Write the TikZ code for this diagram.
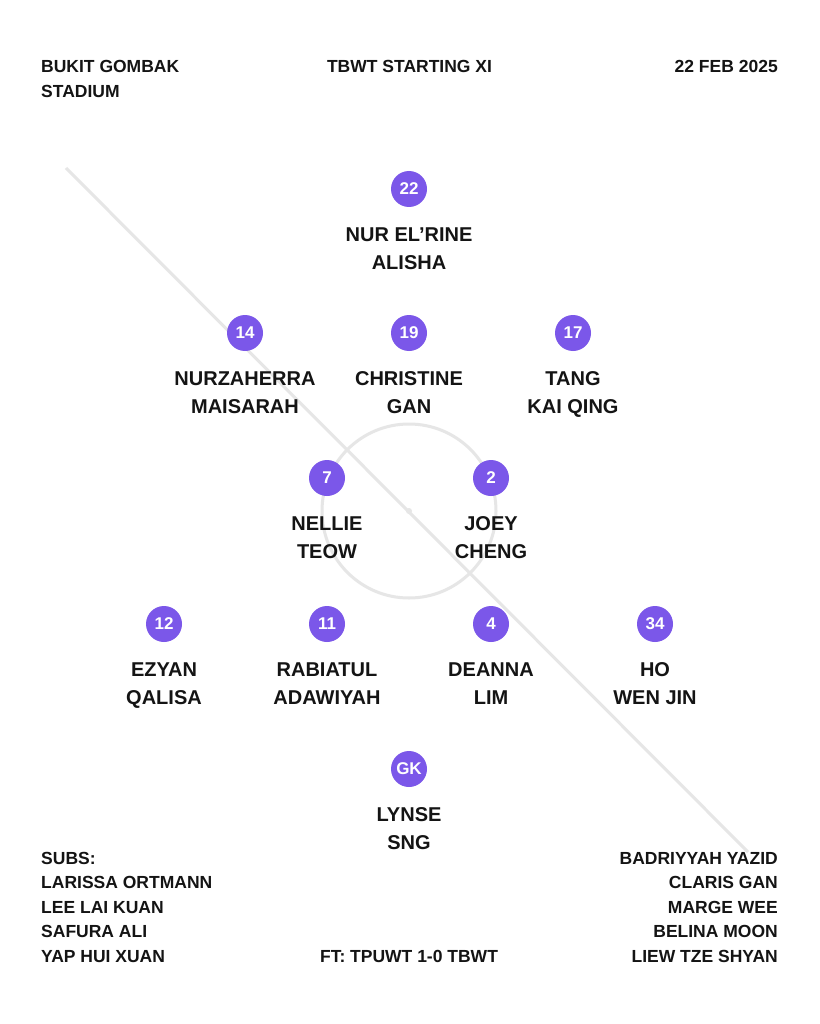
\documentclass[tikz,border=0pt]{standalone}
\usepackage{fontspec}
\setmainfont{Liberation Sans}
\definecolor{kitpurple}{RGB}{123,87,233}
\definecolor{pitch}{RGB}{230,230,230}
\definecolor{ink}{RGB}{20,20,20}
\begin{document}
\begin{tikzpicture}[x=1pt,y=-1pt,
  numdisc/.style={circle,fill=kitpurple,minimum size=36pt,inner sep=0pt,text=white,font=\fontsize{17}{17}\selectfont\bfseries},
  pname/.style={anchor=base,text=ink,inner sep=0pt,font=\fontsize{20}{24}\selectfont\bfseries},
  info/.style={text=ink,inner sep=0pt,font=\fontsize{17.5}{20}\selectfont\bfseries},
  pitchline/.style={draw=pitch,line width=3pt}]
\useasboundingbox[fill=white] (0,0) rectangle (819,1024);
% pitch markings
\coordinate (lineA) at (66,168);
\coordinate (lineB) at (748,852);
\node[circle,draw=pitch,line width=3pt,minimum size=174pt,inner sep=0pt] (centrecircle) at (409,511) {};
\draw[pitchline] (lineA) -- (lineB);
\node[circle,fill=pitch,minimum size=6pt,inner sep=0pt] (centrespot) at (centrecircle.center) {};
% header
\node[info,anchor=base west] (venue1) at (41,73) {BUKIT GOMBAK};
\node[info,anchor=base west] (venue2) at (41,98) {STADIUM};
\node[info,anchor=base] (title) at (409.5,73) {TBWT STARTING XI};
\node[info,anchor=base east] (date) at (778,73) {22 FEB 2025};
% players
\foreach \nm/\num/\x/\y/\la/\lb in {
  p22/22/409/189/{NUR EL’RINE}/{ALISHA},
  p14/14/245/333/{NURZAHERRA}/{MAISARAH},
  p19/19/409/333/{CHRISTINE}/{GAN},
  p17/17/573/333/{TANG}/{KAI QING},
  p7/7/327/478/{NELLIE}/{TEOW},
  p2/2/491/478/{JOEY}/{CHENG},
  p12/12/164/624/{EZYAN}/{QALISA},
  p11/11/327/624/{RABIATUL}/{ADAWIYAH},
  p4/4/491/624/{DEANNA}/{LIM},
  p34/34/655/624/{HO}/{WEN JIN},
  pgk/GK/409/769/{LYNSE}/{SNG}}{
  \node[numdisc] (\nm) at (\x,\y) {\num};
  \node[pname] (\nm namea) at (\x,\y+52) {\la};
  \node[pname] (\nm nameb) at (\x,\y+80.5) {\lb};
}
% subs
\node[info,anchor=base west] (subs0) at (41,864) {SUBS:};
\node[info,anchor=base west] (subs1) at (41,888.5) {LARISSA ORTMANN};
\node[info,anchor=base west] (subs2) at (41,913) {LEE LAI KUAN};
\node[info,anchor=base west] (subs3) at (41,937.5) {SAFURA ALI};
\node[info,anchor=base west] (subs4) at (41,962) {YAP HUI XUAN};
\node[info,anchor=base east] (subs5) at (778,864) {BADRIYYAH YAZID};
\node[info,anchor=base east] (subs6) at (778,888.5) {CLARIS GAN};
\node[info,anchor=base east] (subs7) at (778,913) {MARGE WEE};
\node[info,anchor=base east] (subs8) at (778,937.5) {BELINA MOON};
\node[info,anchor=base east] (subs9) at (778,962) {LIEW TZE SHYAN};
\node[info,anchor=base] (result) at (409,962) {FT: TPUWT 1-0 TBWT};
\end{tikzpicture}
\end{document}
